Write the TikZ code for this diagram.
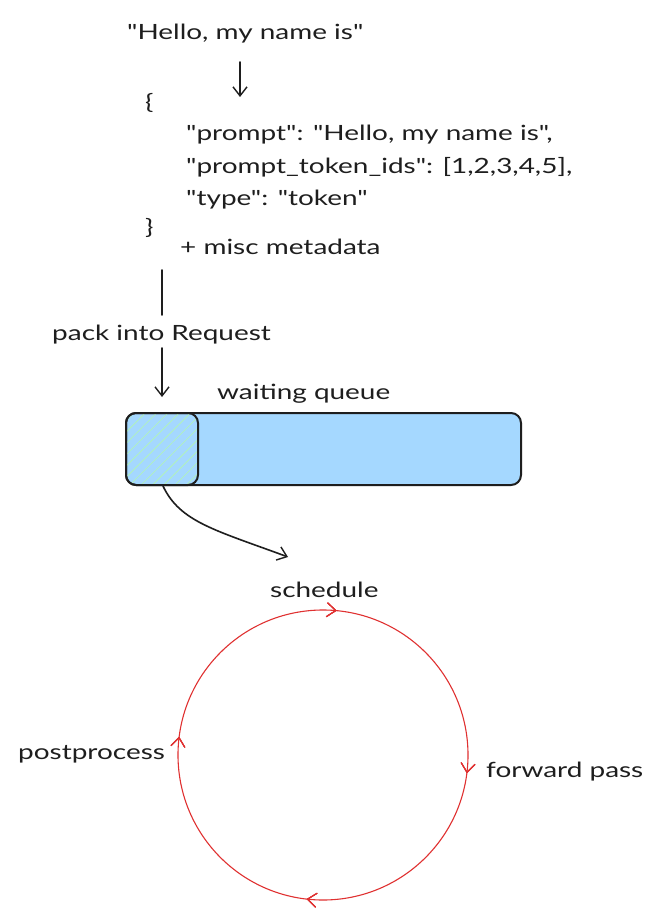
\documentclass[tikz,border=0pt]{standalone}
\usepackage{fontspec}
\setmainfont{Lato}[FakeStretch=1.33,Ligatures=TeXOff]
\usetikzlibrary{arrows.meta,decorations.markings,patterns.meta}
\definecolor{ink}{HTML}{1E1E1E}
\definecolor{qblue}{HTML}{A5D8FF}
\definecolor{qgreen}{HTML}{B2F2BB}
\definecolor{lred}{HTML}{E03131}
\newcommand\dq{\symbol{34}}
\tikzset{
  txt/.style={anchor=base west, inner sep=0pt, text=ink, font=\fontsize{21}{25}\selectfont},
  conn/.style={draw=ink, line width=1.6pt, line cap=round},
  arr/.style={conn, -{Straight Barb[length=9pt,width=14pt,line width=1.4pt]}},
  loopmark/.style={decoration={markings,
     mark=at position #1 with {\arrow{Straight Barb[length=9pt,width=14pt,line width=1pt]}}}, postaction=decorate}
}
\begin{document}
\begin{tikzpicture}[x=1pt,y=-1pt]
\useasboundingbox[fill=white] (0,0) rectangle (661,909);
% text
\node[txt] (hello) at (127,40) {\dq Hello, my name is\dq};
\node[txt] (ob) at (145,110) {\{};
\node[txt] (l1) at (186,141) {\dq prompt\dq: \dq Hello, my name is\dq,};
\node[txt] (l2) at (186,174) {\dq prompt\_token\_ids\dq: [1,2,3,4,5],};
\node[txt] (l3) at (186,206) {\dq type\dq: \dq token\dq};
\node[txt] (cb) at (145,235) {\}};
\node[txt] (meta) at (180,254) {+ misc metadata};
\node[txt] (pack) at (52,340) {pack into Request};
\node[txt] (wq) at (217,399) {waiting queue};
% arrows top
\coordinate (a1s) at (240,62);
\coordinate (a1e) at (240,97);
\draw[arr] (a1s) -- (a1e);
\coordinate (l2s) at (162,270);
\coordinate (l2e) at (162,315);
\draw[conn] (l2s) -- (l2e);
\coordinate (a3s) at (162,348);
\coordinate (a3e) at (162,397);
\draw[arr] (a3s) -- (a3e);
% queue
\draw[fill=qblue, draw=ink, line width=2pt, rounded corners=10pt] (126,413) rectangle (521,485);
\path[pattern={Lines[angle=45,distance=8pt,line width=0.8pt]}, pattern color=qgreen, rounded corners=10pt] (127,414) rectangle (198,484);
\draw[draw=ink, line width=2pt, rounded corners=10pt] (126,413) rectangle (198,485);
\coordinate (hb) at (163,486);
\coordinate (ce) at (288,557);
\draw[arr] (hb) .. controls (180,522) and (215,530) .. (ce);
% loop
\coordinate (lc) at (323,755);
\node[txt] (sched) at (270,597) {schedule};
\node[txt] (post) at (18,759) {postprocess};
\node[txt] (fwd) at (486,777) {forward pass};
\draw[draw=lred, line width=1.1pt, loopmark/.list={0.02,0.268,0.52,0.765}] (lc) circle[radius=145];
\end{tikzpicture}
\end{document}
